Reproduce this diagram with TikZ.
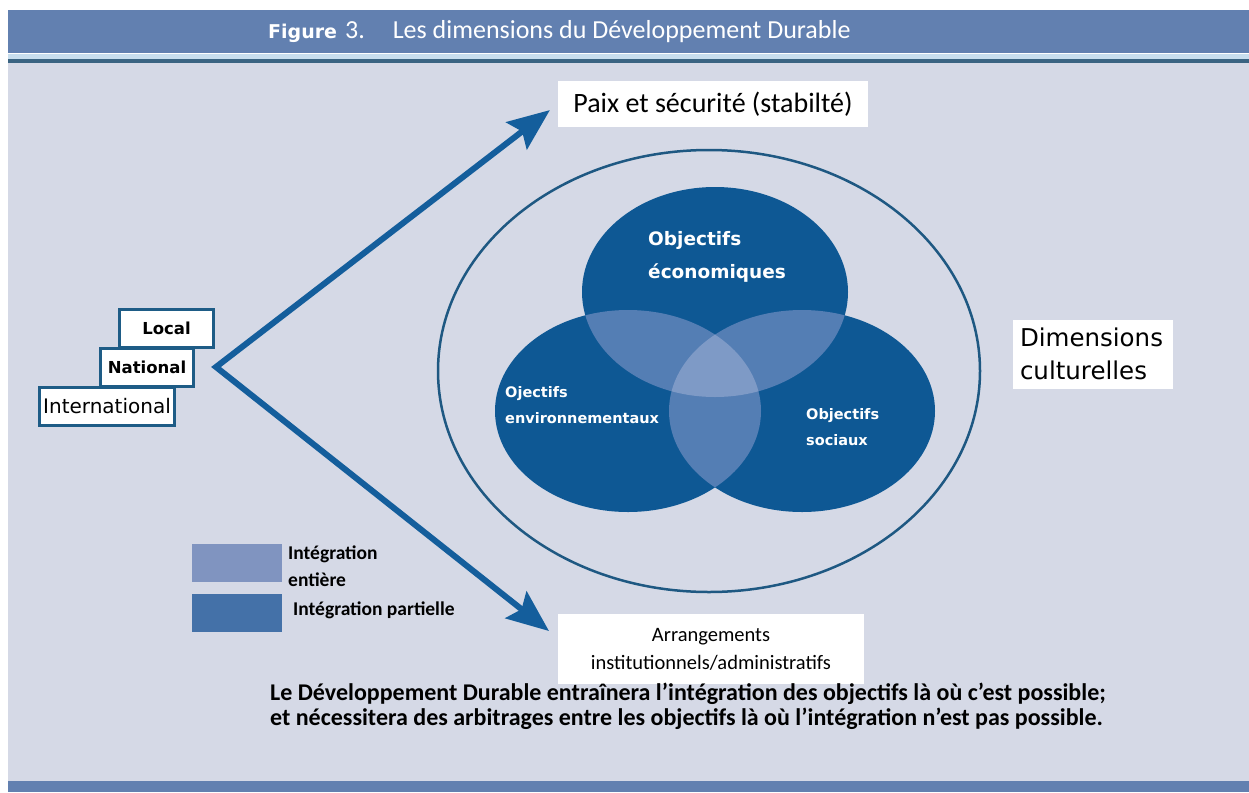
\documentclass[tikz,border=0pt]{standalone}
\usepackage{fontspec}
\setmainfont{Carlito}
\newfontfamily\dvsans{DejaVu Sans}
\usetikzlibrary{arrows.meta}

\definecolor{pagebg}{RGB}{213,217,230}
\definecolor{headbar}{RGB}{98,128,176}
\definecolor{headlight}{RGB}{200,222,238}
\definecolor{headdark}{RGB}{58,100,130}
\definecolor{vennblue}{RGB}{14,88,148}
\definecolor{vennmid}{RGB}{84,126,180}
\definecolor{vennlight}{RGB}{126,154,198}
\definecolor{legendlight}{RGB}{128,148,192}
\definecolor{legenddark}{RGB}{68,113,168}
\definecolor{arrowblue}{RGB}{20,94,156}
\definecolor{ringblue}{RGB}{30,88,130}
\definecolor{framecol}{RGB}{30,92,134}

\newcommand{\ecoset}{(715,292) ellipse [x radius=133pt, y radius=105pt]}
\newcommand{\envset}{(628,411) ellipse [x radius=133pt, y radius=101pt]}
\newcommand{\socset}{(802,411) ellipse [x radius=133pt, y radius=101pt]}

\begin{document}
\begin{tikzpicture}[x=1pt, y=-1pt,
  whitebox/.style={fill=white, inner sep=0pt, align=center},
  levelbox/.style={draw=framecol, line width=3pt, fill=white, inner sep=0pt, minimum height=38pt, font=\dvsans\fontsize{16.5}{18}\selectfont\bfseries},
  vennlbl/.style={text=white, align=left, inner sep=0pt, anchor=west},
  bigarrow/.style={draw=arrowblue, line width=6pt, line join=miter, {Stealth[length=42pt, width=34pt, inset=7pt]}-{Stealth[length=42pt, width=34pt, inset=7pt]}},
  legendbox/.style={minimum width=90pt, minimum height=38pt, inner sep=0pt},
  legendtxt/.style={anchor=west, inner sep=0pt, align=left, font=\fontsize{19.5}{27}\selectfont\bfseries}]
\useasboundingbox (0,0) rectangle (1249,792);
\fill[white] (0,0) rectangle (1249,792);
\fill[pagebg] (8,63) rectangle (1249,781);
\fill[headbar] (8,10) rectangle (1249,53);
\fill[headlight] (8,54) rectangle (1249,59);
\fill[headdark] (8,59) rectangle (1249,63);
\fill[headbar] (8,781) rectangle (1249,792);

\node[anchor=west, text=white, inner sep=0pt] (title) at (268,32) {{\dvsans\bfseries\fontsize{19}{22}\selectfont Figure}\hspace{8pt}{\fontsize{26}{28}\selectfont 3.\hspace{28pt}Les dimensions du Développement Durable}};

% cercle des dimensions culturelles
\draw[ringblue, line width=2.5pt] (709,371) ellipse [x radius=271pt, y radius=221pt];

% les trois objectifs
\fill[vennblue] \ecoset \envset \socset;
\begin{scope}
\clip \ecoset;
\fill[vennmid] \envset \socset;
\end{scope}
\begin{scope}
\clip \envset;
\fill[vennmid] \socset;
\end{scope}
\begin{scope}
\clip \ecoset;
\clip \envset;
\fill[vennlight] \socset;
\end{scope}

\node[vennlbl, font=\dvsans\fontsize{18.5}{33}\selectfont\bfseries] (ecolbl) at (648,257) {Objectifs\\économiques};
\node[vennlbl, font=\dvsans\fontsize{14.5}{26}\selectfont\bfseries] (envlbl) at (505,405) {Ojectifs\\environnementaux};
\node[vennlbl, font=\dvsans\fontsize{14.5}{26}\selectfont\bfseries] (soclbl) at (806,427) {Objectifs\\sociaux};

\node[whitebox, minimum width=160pt, minimum height=69pt, text width=146pt, align=left, font=\dvsans\fontsize{24.5}{33}\selectfont] (culture) at (1093,354) {Dimensions\\culturelles};

\node[whitebox, minimum width=310pt, minimum height=46pt, font=\fontsize{28}{30}\selectfont] (paix) at (713,104) {Paix et sécurité (stabilté)};
\node[whitebox, minimum width=306pt, minimum height=70pt, font=\fontsize{20.5}{28}\selectfont] (arrange) at (711,649) {Arrangements\\institutionnels/administratifs};

% niveaux
\node[levelbox, minimum width=94pt] (local) at (166.5,328) {Local};
\node[levelbox, minimum width=93pt] (national) at (147,367) {National};
\node[levelbox, minimum width=135pt, font=\dvsans\fontsize{20}{22}\selectfont] (international) at (107,406) {International};

\coordinate (apex) at (216,367);
\coordinate (lowtip) at (549,631);
\draw[bigarrow, shorten <=10pt] (paix.west) -- (apex) -- (lowtip);

% legende
\node[legendbox, fill=legendlight] (fullkey) at (237,562.5) {};
\node[legendbox, fill=legenddark] (partkey) at (237,613) {};
\node[legendtxt] (fulltxt) at (288,566) {Intégration\\entière};
\node[legendtxt] (parttxt) at (293,610) {Intégration partielle};

\node[anchor=north west, inner sep=0pt, align=left, font=\fontsize{24}{25}\selectfont\bfseries] (summary) at (270,683) {Le Développement Durable entraînera l'intégration des objectifs là où c'est possible;\\et nécessitera des arbitrages entre les objectifs là où l'intégration n'est pas possible.};
\end{tikzpicture}
\end{document}
